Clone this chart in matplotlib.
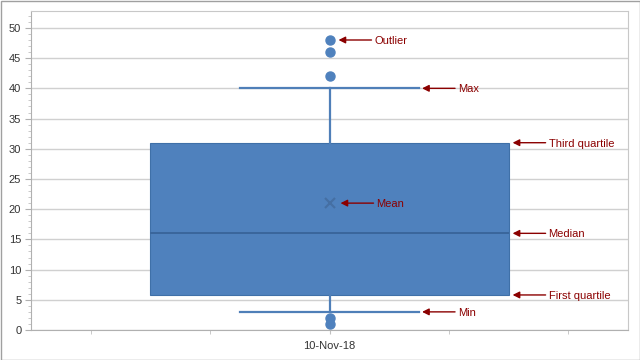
import matplotlib
matplotlib.use("Agg")
import matplotlib.pyplot as plt
from matplotlib.patches import Rectangle

# ---- data ----
category = "10-Nov-18"
q1 = 5.8
median = 16.0
q3 = 31.0
mean = 21.0
whisker_low = 3.0
whisker_high = 40.0
outliers = [48, 46, 42, 2, 1]

ann_labels = ["Outlier", "Max", "Third quartile", "Mean", "Median", "First quartile", "Min"]

box_color = "#4F81BD"
ann_color = "#8B0000"

plt.rcParams["font.family"] = ["Liberation Sans", "DejaVu Sans"]

fig = plt.figure(figsize=(6.4, 3.6), dpi=100)
fig.patch.set_facecolor("white")
W, H = 640, 360
left, right, top, bottom = 31, 628, 11, 330
ax = fig.add_axes([left / W, 1 - bottom / H, (right - left) / W, (bottom - top) / H])

stats = [dict(med=median, q1=q1, q3=q3, whislo=whisker_low, whishi=whisker_high,
              fliers=outliers, mean=mean, label=category)]
ax.bxp(stats, positions=[0], widths=0.6, showmeans=True, patch_artist=True,
       boxprops=dict(facecolor=box_color, edgecolor="#3F70A8", linewidth=0.8),
       medianprops=dict(color="#3A669C", linewidth=1.4),
       whiskerprops=dict(color="#4F7FB8", linewidth=1.6),
       capprops=dict(color="#4F7FB8", linewidth=1.6),
       capwidths=0.3,
       meanprops=dict(marker="x", markeredgecolor="#456FA3", markersize=7, markeredgewidth=1.5),
       flierprops=dict(marker="o", markerfacecolor=box_color, markeredgecolor=box_color, markersize=6.5),
       zorder=3)

ax.set_xlim(-0.5, 0.5)
ax.set_ylim(0, 52.8)
ax.set_yticks(range(0, 51, 5))
ax.set_yticks(range(0, 53, 1), minor=True)
ax.set_xticks([0])
ax.set_xticklabels([category])
ax.set_xticks([-0.4, -0.2, 0.2, 0.4], minor=True)
ax.grid(axis="y", which="major", color="#D0D0D0", linewidth=1.0, zorder=0)
ax.set_axisbelow(True)
for s in ax.spines.values():
    s.set_color("#C8C8C8")
    s.set_linewidth(0.8)
ax.spines["left"].set_color("#B0B0B0")
ax.spines["bottom"].set_color("#B0B0B0")
ax.tick_params(axis="y", which="major", length=4, color="#B0B0B0", labelsize=8, labelcolor="#333333", pad=3)
ax.tick_params(axis="y", which="minor", length=2, color="#C0C0C0")
ax.tick_params(axis="x", which="both", length=3, color="#C0C0C0", labelsize=8, labelcolor="#333333", pad=5)

px = 1.0 / (right - left)  # one pixel in data units along x
cap_half = 0.15
box_half = 0.3
# (label, y value, base x, head gap px)
targets = [
    (ann_labels[0], outliers[0], 0.0, 9),
    (ann_labels[1], whisker_high, cap_half, 3),
    (ann_labels[2], q3, box_half, 4),
    (ann_labels[3], mean, 0.0, 11),
    (ann_labels[4], median, box_half, 4),
    (ann_labels[5], q1, box_half, 4),
    (ann_labels[6], whisker_low, cap_half, 3),
]
for label, yv, bx, gap in targets:
    head = bx + gap * px
    tail = head + 33 * px
    ax.annotate("", xy=(head, yv), xytext=(tail, yv),
                arrowprops=dict(arrowstyle="-|>", color=ann_color, lw=1.0,
                                mutation_scale=10, shrinkA=0, shrinkB=0),
                zorder=5)
    ax.text(tail + 3 * px, yv, label, color=ann_color, fontsize=8,
            va="center_baseline", ha="left", zorder=5)

fig.patches.append(Rectangle((0.5 / W, 0.5 / H), 1 - 1.0 / W, 1 - 1.0 / H,
                             transform=fig.transFigure, fill=False,
                             edgecolor="#A0A0A0", linewidth=1.0))

fig.savefig("out.png", dpi=100, facecolor="white")
